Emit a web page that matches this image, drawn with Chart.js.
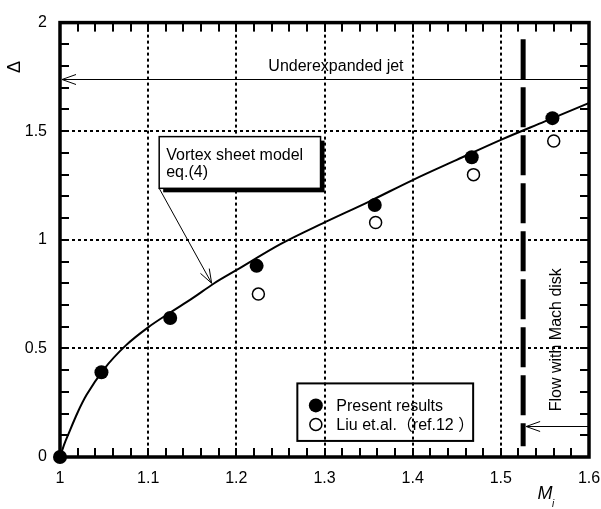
<!DOCTYPE html>
<html>
<head>
<meta charset="utf-8">
<script src="https://cdn.jsdelivr.net/npm/chart.js@4.4.0/dist/chart.umd.min.js"></script>
<style>
  html, body { margin: 0; padding: 0; background: #fff; }
  canvas { display: block; }
</style>
</head>
<body>
<canvas id="chart" width="601" height="509"></canvas>
<script>
// vortex sheet model, eq.(4)
const modelM     = [1.000, 1.005, 1.010, 1.020, 1.030, 1.050, 1.075, 1.100, 1.125, 1.150, 1.175, 1.200, 1.250, 1.300, 1.350, 1.400, 1.450, 1.500, 1.550, 1.600];
const modelDelta = [0.000, 0.060, 0.110, 0.205, 0.285, 0.405, 0.515, 0.597, 0.665, 0.730, 0.800, 0.860, 0.980, 1.080, 1.175, 1.275, 1.368, 1.460, 1.545, 1.630];

// present results
const presentM     = [1.000, 1.047, 1.125, 1.223, 1.357, 1.467, 1.5585];
const presentDelta = [0.00, 0.39, 0.64, 0.88, 1.16, 1.38, 1.56];

// Liu et al. (ref.12)
const liuM     = [1.225, 1.358, 1.469, 1.560];
const liuDelta = [0.75, 1.08, 1.30, 1.455];

const xTickValues = [1, 1.1, 1.2, 1.3, 1.4, 1.5, 1.6];
const yTickValues = [0, 0.5, 1, 1.5, 2];

const machDiskM = 1.5253;

const FONT = '"Liberation Sans", Arial, "Noto Sans CJK JP", sans-serif';

function pts(xs, ys) {
  return xs.map((x, i) => ({ x: x, y: ys[i] }));
}

// open arrow head: line from (x1,y1) to the tip at (x2,y2)
function arrow(ctx, x1, y1, x2, y2, len, half) {
  const a = Math.atan2(y2 - y1, x2 - x1);
  ctx.beginPath();
  ctx.moveTo(x1, y1);
  ctx.lineTo(x2, y2);
  ctx.stroke();
  const bx = x2 - len * Math.cos(a), by = y2 - len * Math.sin(a);
  const nx = -Math.sin(a) * half, ny = Math.cos(a) * half;
  ctx.beginPath();
  ctx.moveTo(bx + nx, by + ny);
  ctx.lineTo(x2, y2);
  ctx.lineTo(bx - nx, by - ny);
  ctx.stroke();
}

const decorations = {
  id: 'decorations',
  beforeDatasetsDraw(chart) {
    const ctx = chart.ctx, a = chart.chartArea;
    ctx.save();
    ctx.setLineDash([]);
    ctx.strokeStyle = '#000';
    ctx.lineWidth = 3.5;
    ctx.strokeRect(a.left, a.top, a.right - a.left, a.bottom - a.top);
    ctx.restore();
  },
  afterDraw(chart) {
    const ctx = chart.ctx, a = chart.chartArea;
    const x = chart.scales.x, y = chart.scales.y;
    ctx.save();
    ctx.setLineDash([]);
    ctx.strokeStyle = '#000';
    ctx.fillStyle = '#000';

    // short inward ticks on all four sides, as filled bars
    for (let i = 1; i < 30; i++) {
      const px = Math.round(x.getPixelForValue(1 + i * 0.02));
      ctx.fillRect(px - 1, a.bottom - 9, 2, 9);
      ctx.fillRect(px - 1, a.top, 2, 9);
    }
    for (let i = 1; i < 20; i++) {
      const py = Math.round(y.getPixelForValue(i * 0.1));
      ctx.fillRect(a.left, py - 1, 9, 2);
      ctx.fillRect(a.right - 9, py - 1, 9, 2);
    }

    // Mach disk boundary
    const mx = x.getPixelForValue(machDiskM);
    ctx.lineWidth = 5;
    ctx.setLineDash([40, 8]);
    ctx.beginPath();
    ctx.moveTo(mx, y.getPixelForValue(1.923));
    ctx.lineTo(mx, y.getPixelForValue(0.05));
    ctx.stroke();
    ctx.setLineDash([]);

    // underexpanded jet arrow
    ctx.lineWidth = 1;
    const jy = Math.round(y.getPixelForValue(1.74)) + 0.5;
    arrow(ctx, a.right, jy, a.left + 2, jy, 14, 5);
    ctx.font = '16px ' + FONT;
    ctx.textAlign = 'center';
    ctx.textBaseline = 'bottom';
    ctx.fillText('Underexpanded jet', x.getPixelForValue(1.313), jy - 5);

    // flow with Mach disk arrow + label
    const fy = Math.round(y.getPixelForValue(0.142)) + 0.5;
    arrow(ctx, a.right, fy, mx + 3, fy, 14, 5);
    ctx.save();
    ctx.translate(x.getPixelForValue(1.5632), y.getPixelForValue(0.54));
    ctx.rotate(-Math.PI / 2);
    ctx.textBaseline = 'middle';
    ctx.fillText('Flow with Mach disk', 0, 0);
    ctx.restore();

    // model callout box with shadow
    const bl = x.getPixelForValue(1.1125), br = x.getPixelForValue(1.2955);
    const bt = y.getPixelForValue(1.475), bb = y.getPixelForValue(1.237);
    ctx.fillRect(bl + 4, bt + 4, br - bl, bb - bt);
    ctx.fillStyle = '#fff';
    ctx.fillRect(bl, bt, br - bl, bb - bt);
    ctx.lineWidth = 1.5;
    ctx.strokeRect(bl, bt, br - bl, bb - bt);
    ctx.fillStyle = '#000';
    ctx.textAlign = 'left';
    ctx.textBaseline = 'middle';
    ctx.fillText('Vortex sheet model', bl + 7, bt + 19);
    ctx.fillText('eq.(4)', bl + 7, bt + 36);
    ctx.lineWidth = 1;
    arrow(ctx, bl, bb, x.getPixelForValue(1.172), y.getPixelForValue(0.80), 14, 5);

    // legend
    const ll = x.getPixelForValue(1.2692), lr = x.getPixelForValue(1.4686);
    const lt = y.getPixelForValue(0.3388), lb = y.getPixelForValue(0.074);
    ctx.lineWidth = 2;
    ctx.strokeRect(ll, lt, lr - ll, lb - lt);
    const items = chart.data.datasets.slice(1);
    items.forEach((ds, i) => {
      const cy = lt + 22 + i * 19;
      ctx.beginPath();
      ctx.arc(ll + 18.5, cy, ds.pointRadius, 0, Math.PI * 2);
      ctx.fillStyle = ds.pointBackgroundColor;
      ctx.fill();
      ctx.lineWidth = ds.pointBorderWidth;
      if (ds.pointBorderWidth) ctx.stroke();
      ctx.fillStyle = '#000';
      ctx.fillText(ds.label, ll + 39, cy + 1);
    });

    // axis titles
    ctx.save();
    ctx.translate(15, 67);
    ctx.rotate(-Math.PI / 2);
    ctx.textAlign = 'center';
    ctx.font = '18px ' + FONT;
    ctx.fillText('Δ', 0, 0);
    ctx.restore();
    ctx.textAlign = 'center';
    ctx.font = 'italic 18px ' + FONT;
    ctx.fillText('M', 545, 494);
    ctx.font = 'italic 10px ' + FONT;
    ctx.fillText('i', 553, 504);
    ctx.restore();
  }
};

new Chart(document.getElementById('chart'), {
  type: 'line',
  data: {
    datasets: [
      {
        label: 'Vortex sheet model eq.(4)',
        data: pts(modelM, modelDelta),
        borderColor: '#000',
        borderWidth: 2,
        pointRadius: 0,
        cubicInterpolationMode: 'monotone',
        fill: false
      },
      {
        label: 'Present results',
        data: pts(presentM, presentDelta),
        showLine: false,
        pointRadius: 7,
        pointBackgroundColor: '#000',
        pointBorderColor: '#000',
        pointBorderWidth: 0,
        clip: false
      },
      {
        label: 'Liu et.al.（ref.12 ）',
        data: pts(liuM, liuDelta),
        showLine: false,
        pointRadius: 6,
        pointBackgroundColor: '#fff',
        pointBorderColor: '#000',
        pointBorderWidth: 1.5,
        clip: false
      }
    ]
  },
  options: {
    responsive: false,
    animation: false,
    devicePixelRatio: 1,
    layout: { padding: { top: 16, right: 0, left: 0, bottom: 0 } },
    plugins: {
      legend: { display: false },
      tooltip: { enabled: false }
    },
    scales: {
      x: {
        type: 'linear',
        min: 1,
        max: 1.6,
        afterBuildTicks: s => { s.ticks = xTickValues.map(v => ({ value: v })); },
        afterFit: s => {
          s.height = 52;
          // only leave room for half of the last label, not the label padding too
          s.paddingLeft = 0;
          s.paddingRight = 12;
        },
        ticks: {
          color: '#000',
          font: { family: FONT, size: 16 },
          padding: 12,
          maxRotation: 0,
          callback: v => String(v)
        },
        grid: { color: '#000', lineWidth: 2, drawTicks: false, borderDash: [3, 3] },
        border: { display: false, dash: [3, 3] }
      },
      y: {
        type: 'linear',
        min: 0,
        max: 2,
        afterBuildTicks: s => { s.ticks = yTickValues.map(v => ({ value: v })); },
        afterFit: s => { s.width = 60; },
        ticks: {
          color: '#000',
          font: { family: FONT, size: 16 },
          padding: 13,
          callback: v => String(v)
        },
        grid: { color: '#000', lineWidth: 2, drawTicks: false, borderDash: [3, 3] },
        border: { display: false, dash: [3, 3] }
      }
    }
  },
  plugins: [decorations]
});
</script>
</body>
</html>
